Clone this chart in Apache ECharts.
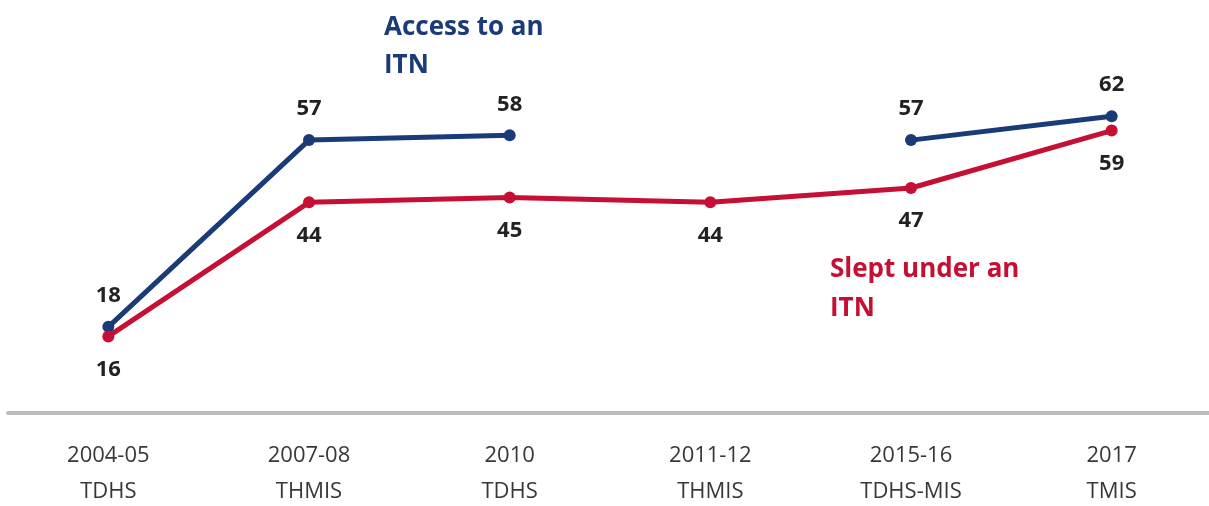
<!DOCTYPE html>
<html>
<head>
<meta charset="utf-8">
<script src="https://cdn.jsdelivr.net/npm/echarts@6/dist/echarts.min.js"></script>
<style>
  html, body { margin: 0; padding: 0; background: #fff; }
  #chart { width: 1209px; height: 506px; }
</style>
</head>
<body>
<div id="chart"></div>
<script>
// survey rounds (two-line labels)
const surveys = ['2004-05\nTDHS', '2007-08\nTHMIS', '2010\nTDHS', '2011-12\nTHMIS', '2015-16\nTDHS-MIS', '2017\nTMIS'];
// % of population with access to an ITN (no value for 2011-12)
const accessITN = [18, 57, 58, null, 57, 62];
// % of population that slept under an ITN
const sleptITN = [16, 44, 45, 44, 47, 59];

const blue = '#1b3a78';
const red = '#c50f34';
const font = "'Open Sans', 'Noto Sans', sans-serif";

const chart = echarts.init(document.getElementById('chart'));

const option = {
  animation: false,
  grid: { left: 8, right: -3, top: 30, bottom: 93, outerBoundsMode: 'none', containLabel: false },
  xAxis: {
    type: 'category',
    data: surveys,
    boundaryGap: true,
    axisLine: { lineStyle: { color: '#bcbcbc', width: 4 } },
    axisTick: { show: false },
    axisLabel: {
      color: '#383838',
      fontFamily: font,
      fontSize: 22,
      lineHeight: 36,
      margin: 25
    }
  },
  yAxis: {
    type: 'value',
    min: 0,
    max: 80,
    show: false,
    splitLine: { show: false }
  },
  series: [
    {
      name: 'Access to an ITN',
      type: 'line',
      data: accessITN,
      connectNulls: false,
      symbol: 'circle',
      symbolSize: 12,
      lineStyle: { color: blue, width: 5 },
      itemStyle: { color: blue },
      label: {
        show: true,
        position: 'top',
        distance: 14,
        color: '#222',
        fontFamily: font,
        fontWeight: 'bold',
        fontSize: 22
      }
    },
    {
      name: 'Slept under an ITN',
      type: 'line',
      data: sleptITN,
      symbol: 'circle',
      symbolSize: 12,
      lineStyle: { color: red, width: 5 },
      itemStyle: { color: red },
      label: {
        show: true,
        position: 'bottom',
        distance: 16,
        color: '#222',
        fontFamily: font,
        fontWeight: 'bold',
        fontSize: 22
      }
    }
  ],
  graphic: [
    {
      type: 'text',
      left: 384,
      top: 9,
      style: {
        text: 'Access to an\nITN',
        fill: blue,
        font: "bold 26px 'Open Sans', sans-serif",
        lineHeight: 38
      }
    },
    {
      type: 'text',
      left: 830,
      top: 250,
      style: {
        text: 'Slept under an\nITN',
        fill: red,
        font: "bold 26px 'Open Sans', sans-serif",
        lineHeight: 39
      }
    }
  ]
};

chart.setOption(option);
</script>
</body>
</html>
